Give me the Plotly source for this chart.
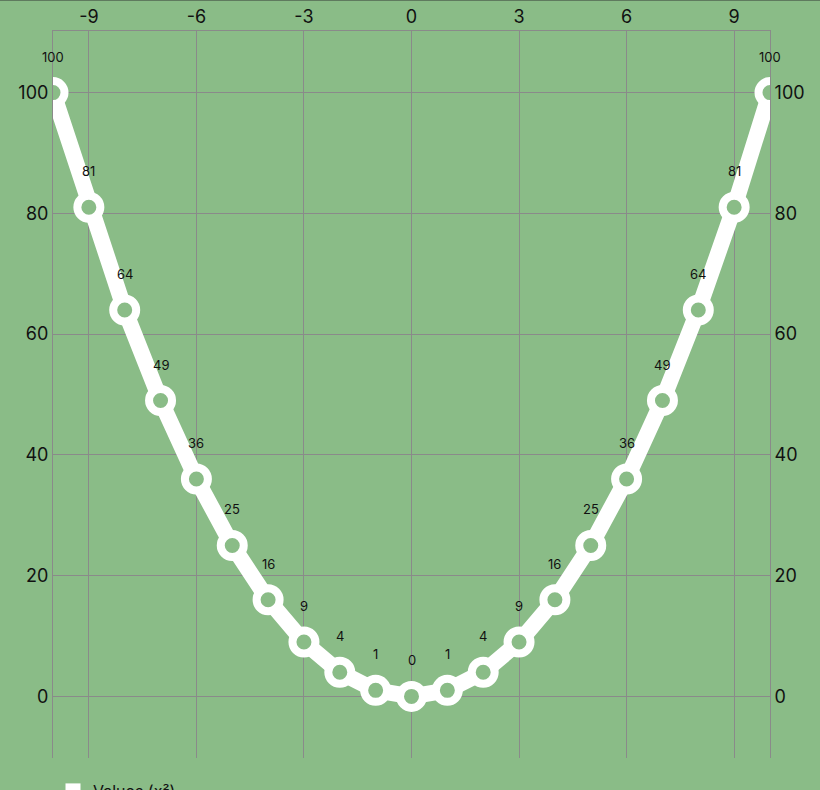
import plotly.graph_objects as go

x_vals = list(range(-10, 11))
y_vals = [100, 81, 64, 49, 36, 25, 16, 9, 4, 1, 0, 1, 4, 9, 16, 25, 36, 49, 64, 81, 100]
x_ticks = [-9, -6, -3, 0, 3, 6, 9]
x_tick_text = ["-9", "-6", "-3", "0", "3", "6", "9"]
y_ticks = [0, 20, 40, 60, 80, 100]
series_name = "Values (x²)"

bg = "#8abc87"
grid = "#8a8a8a"

fig = go.Figure()

fig.add_trace(go.Scatter(
    x=x_vals, y=y_vals, mode="lines+markers",
    line=dict(color="white", width=16),
    marker=dict(size=23, color=bg, line=dict(color="white", width=8)),
    showlegend=False, hoverinfo="x+y",
))
# legend swatch only
fig.add_trace(go.Scatter(
    x=[None], y=[None], mode="markers", name=series_name,
    marker=dict(symbol="square", size=15, color="white"),
))
# invisible copy so the right axis gets drawn
fig.add_trace(go.Scatter(
    x=x_vals, y=y_vals, yaxis="y2", mode="lines",
    line=dict(color="rgba(0,0,0,0)"), showlegend=False, hoverinfo="skip",
))

for xv, yv in zip(x_vals, y_vals):
    fig.add_annotation(x=xv, y=yv, text=str(yv), showarrow=False,
                       yshift=36, font=dict(size=13, color="#111"))

tick_font = dict(family="Inter, Liberation Sans, sans-serif", size=18, color="#111")

fig.update_layout(
    width=820, height=790,
    margin=dict(l=53, r=50, t=31, b=32, autoexpand=False),
    paper_bgcolor=bg, plot_bgcolor=bg,
    font=dict(family="Inter, Liberation Sans, sans-serif"),
    xaxis=dict(side="top", range=[-10, 10], tickvals=x_ticks, ticktext=x_tick_text,
               showgrid=True, gridcolor=grid, gridwidth=1, zeroline=False,
               showline=True, linecolor=grid, linewidth=1, tickfont=tick_font, ticks=""),
    yaxis=dict(range=[-10.2, 110.2], tickvals=y_ticks, showgrid=True,
               gridcolor=grid, gridwidth=1, zeroline=False, showline=True,
               linecolor=grid, linewidth=1, tickfont=tick_font, ticks=""),
    yaxis2=dict(overlaying="y", side="right", matches="y", tickvals=y_ticks,
                showgrid=False, zeroline=False, showline=True, linecolor=grid,
                linewidth=1, tickfont=tick_font, ticks=""),
    legend=dict(x=0, xanchor="left", y=-0.022, yanchor="top",
                font=dict(size=16, color="#111"), bgcolor="rgba(0,0,0,0)"),
    showlegend=True,
)

fig.add_shape(type="line", xref="paper", yref="paper", x0=-0.1, x1=1.1,
              y0=1.0425, y1=1.0425, line=dict(color="#5f7a5e", width=2))

fig.write_html("out.html", config={"displayModeBar": False},
               post_script="document.body.style.margin='0';"
               "document.body.style.overflow='hidden';")
